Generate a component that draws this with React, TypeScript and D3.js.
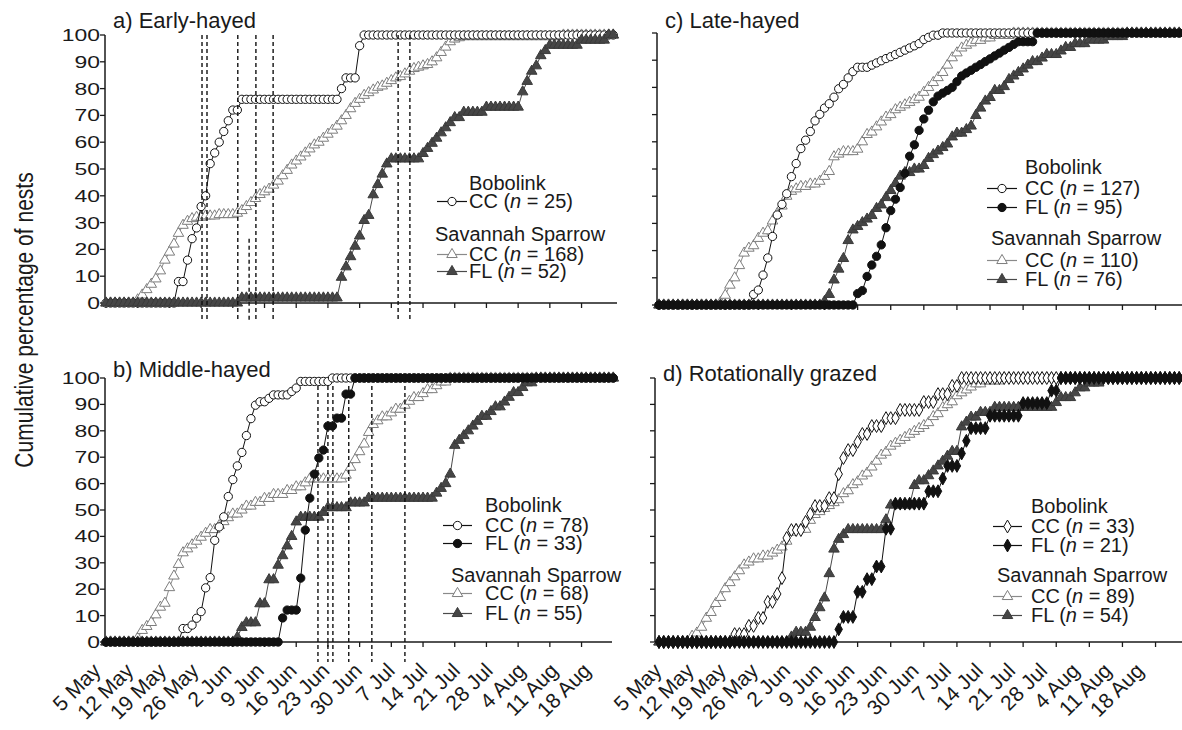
import { useEffect, useRef } from 'react'
import * as d3 from 'd3'

const W = 1182
const H = 730
const FONT = 'Liberation Sans, Arial, Helvetica, sans-serif'

// days since 5 May, one tick a week
const TICK_DAYS = [0, 7, 14, 21, 28, 35, 42, 49, 56, 63, 70, 77, 84, 91, 98, 105]
const TICK_LABELS = ['5 May', '12 May', '19 May', '26 May', '2 Jun', '9 Jun', '16 Jun', '23 Jun',
  '30 Jun', '7 Jul', '14 Jul', '21 Jul', '28 Jul', '4 Aug', '11 Aug', '18 Aug']
const Y_TICKS = [0, 10, 20, 30, 40, 50, 60, 70, 80, 90, 100]

// daily cumulative % of nests, day 0 = 5 May ... day 112
// a) Early-hayed
const A_BOB_CC = [
  0, 0, 0, 0, 0, 0, 0, 0, 0, 0, 0, 0, 0, 0, 0, 0, 8, 8, 16, 24,
  28, 36, 40, 52, 56, 60, 64, 68, 72, 72, 76, 76, 76, 76, 76, 76, 76, 76, 76, 76,
  76, 76, 76, 76, 76, 76, 76, 76, 76, 76, 76, 76, 80, 84, 84, 84, 96, 100, 100, 100,
  100, 100, 100, 100, 100, 100, 100, 100, 100, 100, 100, 100, 100, 100, 100, 100, 100, 100, 100, 100,
  100, 100, 100, 100, 100, 100, 100, 100, 100, 100, 100, 100, 100, 100, 100, 100, 100, 100, 100, 100,
  100, 100, 100, 100, 100, 100, 100, 100, 100, 100, 100, 100, 100,
]
const A_SAV_CC = [
  0, 0, 0, 0, 0, 0, 0, 1.2, 3, 5, 7, 9, 12, 16, 19, 22, 26, 29, 30.5, 31.5,
  32, 32, 32.5, 32.5, 32.5, 33, 33, 33, 33, 33.5, 34.5, 36, 37.5, 39, 40.5, 41.5, 42.5, 44, 45.5, 47.5,
  49.5, 51.5, 53, 54.5, 56, 57.5, 59, 60, 61.5, 63, 64.5, 66, 68, 70, 72.5, 74.5, 76, 77.5, 78.5, 79.5,
  80.5, 81, 82, 83, 84, 84.5, 85.5, 86.5, 87.5, 88, 88.5, 89, 90, 91.5, 93.5, 95.5, 97.5, 98.5, 99, 99.4,
  99.4, 99.4, 99.4, 99.4, 99.4, 99.4, 99.4, 99.4, 99.4, 99.4, 99.4, 99.4, 99.4, 99.4, 99.4, 99.4, 99.4, 99.4, 99.4, 99.4,
  99.4, 100, 100, 100, 100, 100, 100, 100, 100, 100, 100, 100, 100,
]
const A_SAV_FL = [
  0, 0, 0, 0, 0, 0, 0, 0, 0, 0, 0, 0, 0, 0, 0, 0, 0, 0, 0, 0,
  0, 0, 0, 0, 0, 0, 0, 0, 0, 0, 1.9, 1.9, 1.9, 1.9, 1.9, 1.9, 1.9, 1.9, 1.9, 1.9,
  1.9, 1.9, 1.9, 1.9, 1.9, 1.9, 1.9, 1.9, 1.9, 1.9, 1.9, 1.9, 9.6, 13.5, 17.3, 21.2, 25, 30.8, 32.7, 40.4,
  44.2, 48.1, 51.9, 53.8, 53.8, 53.8, 53.8, 53.8, 53.8, 53.8, 55.8, 57.7, 59.6, 61.5, 63.5, 65.4, 67.3, 69.2, 69.2, 71.2,
  71.2, 71.2, 71.2, 71.2, 73.1, 73.1, 73.1, 73.1, 73.1, 73.1, 73.1, 73.1, 78.8, 82.7, 86.5, 88.5, 92.3, 94.2, 96.2, 96.2,
  96.2, 96.2, 96.2, 96.2, 96.2, 98.1, 98.1, 98.1, 98.1, 98.1, 98.1, 100, 100,
]

// b) Middle-hayed
const B_BOB_CC = [
  0, 0, 0, 0, 0, 0, 0, 0, 0, 0, 0, 0, 0, 0, 0, 0, 0, 5.1, 5.1, 6.4,
  9, 11.5, 20.5, 24.4, 38.5, 43.6, 47.4, 55.1, 61.5, 66.7, 71.8, 78.2, 84.6, 89.7, 91, 91, 92.3, 93.6, 93.6, 93.6,
  93.6, 94.9, 96.2, 98.7, 98.7, 98.7, 98.7, 98.7, 98.7, 98.7, 100, 100, 100, 100, 100, 100, 100, 100, 100, 100,
  100, 100, 100, 100, 100, 100, 100, 100, 100, 100, 100, 100, 100, 100, 100, 100, 100, 100, 100, 100,
  100, 100, 100, 100, 100, 100, 100, 100, 100, 100, 100, 100, 100, 100, 100, 100, 100, 100, 100, 100,
  100, 100, 100, 100, 100, 100, 100, 100, 100, 100, 100, 100, 100,
]
const B_BOB_FL = [
  0, 0, 0, 0, 0, 0, 0, 0, 0, 0, 0, 0, 0, 0, 0, 0, 0, 0, 0, 0,
  0, 0, 0, 0, 0, 0, 0, 0, 0, 0, 0, 0, 0, 0, 0, 0, 0, 0, 0, 9.1,
  12.1, 12.1, 12.1, 24.2, 42.4, 54.5, 63.6, 69.7, 72.7, 81.8, 81.8, 84.8, 84.8, 93.9, 93.9, 100, 100, 100, 100, 100,
  100, 100, 100, 100, 100, 100, 100, 100, 100, 100, 100, 100, 100, 100, 100, 100, 100, 100, 100, 100,
  100, 100, 100, 100, 100, 100, 100, 100, 100, 100, 100, 100, 100, 100, 100, 100, 100, 100, 100, 100,
  100, 100, 100, 100, 100, 100, 100, 100, 100, 100, 100, 100, 100,
]
const B_SAV_CC = [
  0, 0, 0, 0, 0, 0, 0, 1.5, 4.4, 5.9, 7.4, 10.3, 13.2, 14.7, 20.6, 25, 29.4, 33.8, 35.3, 36.8,
  38.2, 39.7, 41.2, 42.6, 42.6, 44.1, 45.6, 47.1, 48.5, 48.5, 50, 51.5, 51.5, 52.9, 52.9, 54.4, 54.4, 55.9, 55.9, 55.9,
  57.4, 57.4, 58.8, 58.8, 60.3, 61.8, 61.8, 61.8, 61.8, 61.8, 61.8, 61.8, 61.8, 63.2, 66.2, 69.1, 72.1, 75, 79.4, 82.4,
  83.8, 85.3, 85.3, 86.8, 88.2, 88.2, 89.7, 91.2, 92.6, 92.6, 94.1, 95.6, 95.6, 97.1, 98.5, 98.5, 100, 100, 100, 100,
  100, 100, 100, 100, 100, 100, 100, 100, 100, 100, 100, 100, 100, 100, 100, 100, 100, 100, 100, 100,
  100, 100, 100, 100, 100, 100, 100, 100, 100, 100, 100, 100, 100,
]
const B_SAV_FL = [
  0, 0, 0, 0, 0, 0, 0, 0, 0, 0, 0, 0, 0, 0, 0, 0, 0, 0, 0, 0,
  0, 0, 0, 0, 0, 0, 0, 0, 0, 1.8, 5.5, 7.3, 7.3, 7.3, 14.5, 14.5, 23.6, 23.6, 29.1, 32.7,
  36.4, 40, 45.5, 47.3, 47.3, 47.3, 47.3, 47.3, 49.1, 50.9, 50.9, 50.9, 50.9, 50.9, 52.7, 52.7, 52.7, 52.7, 54.5, 54.5,
  54.5, 54.5, 54.5, 54.5, 54.5, 54.5, 54.5, 54.5, 54.5, 54.5, 54.5, 54.5, 54.5, 56.4, 58.2, 60, 63.6, 74.5, 76.4, 78.2,
  80, 81.8, 83.6, 85.5, 85.5, 87.3, 89.1, 89.1, 90.9, 92.7, 94.5, 94.5, 96.4, 98.2, 98.2, 100, 100, 100, 100, 100,
  100, 100, 100, 100, 100, 100, 100, 100, 100, 100, 100, 100, 100,
]

// c) Late-hayed
const C_BOB_CC = [
  0, 0, 0, 0, 0, 0, 0, 0, 0, 0, 0, 0, 0, 0, 0, 0, 0, 0, 0, 0,
  3.9, 5.5, 11, 17.3, 25.2, 33.1, 37, 40.9, 47.2, 52, 57.5, 60.6, 63.8, 67.7, 70.1, 72.4, 74, 76.4, 79.5, 81.1,
  83.5, 85.8, 87.4, 87.4, 87.4, 88.2, 89, 89.8, 90.6, 91.3, 92.1, 92.9, 93.7, 94.5, 95.3, 96.1, 97.6, 98.4, 99.2, 99.2,
  100, 100, 100, 100, 100, 100, 100, 100, 100, 100, 100, 100, 100, 100, 100, 100, 100, 100, 100, 100,
  100, 100, 100, 100, 100, 100, 100, 100, 100, 100, 100, 100, 100, 100, 100, 100, 100, 100, 100, 100,
  100, 100, 100, 100, 100, 100, 100, 100, 100, 100, 100, 100, 100,
]
const C_BOB_FL = [
  0, 0, 0, 0, 0, 0, 0, 0, 0, 0, 0, 0, 0, 0, 0, 0, 0, 0, 0, 0,
  0, 0, 0, 0, 0, 0, 0, 0, 0, 0, 0, 0, 0, 0, 0, 0, 0, 0, 0, 0,
  0, 0, 4.2, 5.3, 10.5, 14.7, 17.9, 22.1, 28.4, 34.7, 38.9, 43.2, 48.4, 54.7, 58.9, 64.2, 68.4, 71.6, 74.7, 76.8,
  77.9, 78.9, 80, 82.1, 84.2, 85.3, 86.3, 87.4, 88.4, 89.5, 90.5, 91.6, 92.6, 93.7, 94.7, 95.8, 96.8, 96.8, 96.8, 96.8,
  100, 100, 100, 100, 100, 100, 100, 100, 100, 100, 100, 100, 100, 100, 100, 100, 100, 100, 100, 100,
  100, 100, 100, 100, 100, 100, 100, 100, 100, 100, 100, 100, 100,
]
const C_SAV_CC = [
  0, 0, 0, 0, 0, 0, 0, 0, 0, 0, 0, 0, 0, 0.9, 3.6, 7.3, 10, 14.5, 19.1, 20.9,
  21.8, 24.5, 26.4, 27.3, 30.9, 33.6, 36.4, 40, 41.8, 42.7, 43.6, 43.6, 44.5, 44.5, 45.5, 47.3, 49.1, 54.5, 55.5, 56.4,
  56.4, 56.4, 57.3, 60, 62.7, 63.6, 65.5, 67.3, 69.1, 70, 71.8, 72.7, 73.6, 74.5, 75.5, 76.4, 78.2, 80, 81.8, 83.6,
  85.5, 88.2, 90.9, 92.7, 94.5, 95.5, 96.4, 97.3, 97.3, 98.2, 98.2, 99.1, 99.1, 99.1, 99.1, 100, 100, 100, 100, 100,
  100, 100, 100, 100, 100, 100, 100, 100, 100, 100, 100, 100, 100, 100, 100, 100, 100, 100, 100, 100,
  100, 100, 100, 100, 100, 100, 100, 100, 100, 100, 100, 100, 100,
]
const C_SAV_FL = [
  0, 0, 0, 0, 0, 0, 0, 0, 0, 0, 0, 0, 0, 0, 0, 0, 0, 0, 0, 0,
  0, 0, 0, 0, 0, 0, 0, 0, 0, 0, 0, 0, 0, 0, 0, 1.3, 3.9, 9.2, 13.2, 17.1,
  23.7, 27.6, 28.9, 30.3, 31.6, 32.9, 35.5, 36.8, 39.5, 42.1, 44.7, 47.4, 48.7, 48.7, 50, 50, 51.3, 53.9, 55.3, 56.6,
  57.9, 59.2, 61.8, 63.2, 63.2, 64.5, 65.8, 69.7, 72.4, 75, 76.3, 78.9, 78.9, 80.3, 82.9, 84.2, 85.5, 86.8, 88.2, 89.5,
  89.5, 90.8, 92.1, 92.1, 92.1, 93.4, 94.7, 94.7, 96.1, 96.1, 96.1, 97.4, 97.4, 97.4, 97.4, 98.7, 98.7, 98.7, 98.7, 100,
  100, 100, 100, 100, 100, 100, 100, 100, 100, 100, 100, 100, 100,
]

// d) Rotationally grazed
const D_BOB_CC = [
  0, 0, 0, 0, 0, 0, 0, 0, 0, 0, 0, 0, 0, 0, 0, 0, 3, 3, 3, 6.1,
  6.1, 9.1, 9.1, 15.2, 15.2, 18.2, 24.2, 39.4, 42.4, 42.4, 42.4, 45.5, 48.5, 51.5, 51.5, 51.5, 54.5, 54.5, 63.6, 69.7,
  72.7, 72.7, 75.8, 78.8, 78.8, 81.8, 81.8, 81.8, 84.8, 84.8, 84.8, 87.9, 87.9, 87.9, 87.9, 87.9, 90.9, 90.9, 90.9, 93.9,
  93.9, 93.9, 97, 97, 100, 100, 100, 100, 100, 100, 100, 100, 100, 100, 100, 100, 100, 100, 100, 100,
  100, 100, 100, 100, 100, 100, 100, 100, 100, 100, 100, 100, 100, 100, 100, 100, 100, 100, 100, 100,
  100, 100, 100, 100, 100, 100, 100, 100, 100, 100, 100, 100, 100,
]
const D_BOB_FL = [
  0, 0, 0, 0, 0, 0, 0, 0, 0, 0, 0, 0, 0, 0, 0, 0, 0, 0, 0, 0,
  0, 0, 0, 0, 0, 0, 0, 0, 0, 0, 0, 0, 0, 0, 0, 0, 0, 0, 4.8, 9.5,
  9.5, 9.5, 19, 19, 23.8, 23.8, 28.6, 28.6, 42.9, 42.9, 52.4, 52.4, 52.4, 52.4, 52.4, 52.4, 52.4, 57.1, 57.1, 57.1,
  61.9, 66.7, 66.7, 66.7, 71.4, 76.2, 81, 81, 81, 81, 85.7, 85.7, 85.7, 85.7, 85.7, 85.7, 85.7, 90.5, 90.5, 90.5,
  90.5, 90.5, 90.5, 95.2, 95.2, 100, 100, 100, 100, 100, 100, 100, 100, 100, 100, 100, 100, 100, 100, 100,
  100, 100, 100, 100, 100, 100, 100, 100, 100, 100, 100, 100, 100,
]
const D_SAV_CC = [
  0, 0, 0, 0, 0, 0, 0, 2.2, 3.4, 5.6, 9, 11.2, 14.6, 16.9, 20.2, 22.5, 24.7, 27, 29.2, 30.3,
  31.5, 31.5, 32.6, 32.6, 33.7, 34.8, 36, 38.2, 41.6, 42.7, 42.7, 42.7, 46.1, 48.3, 49.4, 50.6, 51.7, 52.8, 53.9, 56.2,
  57.3, 59.6, 60.7, 62.9, 64, 66.3, 68.5, 70.8, 71.9, 74.2, 75.3, 76.4, 77.5, 78.7, 79.8, 80.9, 82, 83.1, 85.4, 86.5,
  88.8, 89.9, 91, 93.3, 94.4, 95.5, 96.6, 97.8, 97.8, 98.9, 98.9, 98.9, 98.9, 100, 100, 100, 100, 100, 100, 100,
  100, 100, 100, 100, 100, 100, 100, 100, 100, 100, 100, 100, 100, 100, 100, 100, 100, 100, 100, 100,
  100, 100, 100, 100, 100, 100, 100, 100, 100, 100, 100, 100, 100,
]
const D_SAV_FL = [
  0, 0, 0, 0, 0, 0, 0, 0, 0, 0, 0, 0, 0, 0, 0, 0, 0, 0, 0, 0,
  0, 0, 0, 0, 0, 0, 0, 0, 1.9, 3.7, 3.7, 3.7, 5.6, 9.3, 13, 16.7, 25.9, 35.2, 38.9, 40.7,
  42.6, 42.6, 42.6, 42.6, 42.6, 42.6, 42.6, 42.6, 46.3, 51.9, 51.9, 51.9, 51.9, 51.9, 59.3, 61.1, 61.1, 63, 64.8, 66.7,
  68.5, 70.4, 72.2, 72.2, 81.5, 83.3, 85.2, 85.2, 87, 87, 87, 88.9, 88.9, 88.9, 88.9, 88.9, 88.9, 88.9, 88.9, 88.9,
  88.9, 88.9, 88.9, 88.9, 90.7, 92.6, 92.6, 92.6, 94.4, 96.3, 96.3, 98.1, 98.1, 98.1, 100, 100, 100, 100, 100, 100,
  100, 100, 100, 100, 100, 100, 100, 100, 100, 100, 100, 100, 100,
]

// haying dates (days since 5 May) shown as dashed lines, with the % where each line starts
const HAY_A = [21.2, 22.3, 29.1, 31.6, 33.1, 36.9, 64.5, 67.1]
const HAY_A_TOP = [100, 100, 100, 24, 100, 100, 100, 100]
const HAY_B = [46.8, 49, 50.1, 53.6, 58.7, 66]
const HAY_B_TOP = [97, 97, 97, 97, 97, 97]

type Shape = 'circle' | 'diamond' | 'triangle'
interface Series { code: string; n: number; values: number[]; shape: Shape; filled: boolean; sav: boolean }

const bob = (code: string, n: number, values: number[], shape: Shape = 'circle'): Series =>
  ({ code, n, values, shape, filled: code === 'FL', sav: false })
const sav = (code: string, n: number, values: number[]): Series =>
  ({ code, n, values, shape: 'triangle', filled: code === 'FL', sav: true })

const PANELS = [
  {
    title: 'a) Early-hayed', titleY: 28, x0: 106, ppd: 4.529, axisX: 105, xEnd: 617, y0: 303, y100: 35,
    yLabels: true, xLabels: false,
    bob: [bob('CC', 25, A_BOB_CC)],
    sav: [sav('CC', 168, A_SAV_CC), sav('FL', 52, A_SAV_FL)],
    hay: HAY_A, hayTop: HAY_A_TOP, hayBottom: 322,
    legend: { lx0: 437, lx1: 467, tx: 469, bobY: 190, savX: 435, savY: 241, rows: [208, 261, 278] },
  },
  {
    title: 'b) Middle-hayed', titleY: 377, x0: 106, ppd: 4.529, axisX: 105, xEnd: 612, y0: 642, y100: 378,
    yLabels: true, xLabels: true, labelRange: [102, 592],
    bob: [bob('CC', 78, B_BOB_CC), bob('FL', 33, B_BOB_FL)],
    sav: [sav('CC', 68, B_SAV_CC), sav('FL', 55, B_SAV_FL)],
    hay: HAY_B, hayTop: HAY_B_TOP, hayBottom: 662,
    legend: { lx0: 443, lx1: 472, tx: 485, bobY: 512, savX: 451, savY: 582, rows: [532, 550, 600, 620] },
  },
  {
    title: 'c) Late-hayed', titleY: 28, x0: 659, ppd: 4.729, axisX: 657, xEnd: 1182, y0: 305, y100: 33,
    yLabels: false, xLabels: false,
    bob: [bob('CC', 127, C_BOB_CC), bob('FL', 95, C_BOB_FL)],
    sav: [sav('CC', 110, C_SAV_CC), sav('FL', 76, C_SAV_FL)],
    hay: [], hayTop: [], hayBottom: 0,
    legend: { lx0: 987, lx1: 1017, tx: 1025, bobY: 174, savX: 991, savY: 245, rows: [195, 214, 267, 286] },
  },
  {
    title: 'd) Rotationally grazed', titleY: 381, x0: 659, ppd: 4.729, axisX: 655, xEnd: 1182, y0: 642, y100: 378,
    yLabels: false, xLabels: true, labelRange: [663, 1145],
    bob: [bob('CC', 33, D_BOB_CC, 'diamond'), bob('FL', 21, D_BOB_FL, 'diamond')],
    sav: [sav('CC', 89, D_SAV_CC), sav('FL', 54, D_SAV_FL)],
    hay: [], hayTop: [], hayBottom: 0,
    legend: { lx0: 993, lx1: 1022, tx: 1031, bobY: 513, savX: 997, savY: 582, rows: [533, 552, 603, 622] },
  },
]

function styleOf(s: Series) {
  if (s.sav) return s.filled
    ? { stroke: '#3a3a3a', fill: '#464646', line: '#4a4a4a' }
    : { stroke: '#7d7d7d', fill: '#ffffff', line: '#8a8a8a' }
  return s.filled
    ? { stroke: '#111', fill: '#111', line: '#111' }
    : { stroke: '#111', fill: '#ffffff', line: '#111' }
}

function symbolPath(shape: Shape) {
  if (shape === 'triangle') return d3.symbol().type(d3.symbolTriangle).size(48)()
  if (shape === 'diamond') return d3.symbol().type(d3.symbolDiamond).size(48)()
  return d3.symbol().type(d3.symbolCircle).size(54)()
}

export default function App() {
  const svgRef = useRef<SVGSVGElement>(null)

  useEffect(() => {
    if (!svgRef.current) return
    const svg = d3.select(svgRef.current)
    svg.selectAll('*').remove()
    svg.append('rect').attr('width', W).attr('height', H).attr('fill', '#fff')

    PANELS.forEach(p => {
      const x = d3.scaleLinear().domain([0, 105]).range([p.x0, p.x0 + 105 * p.ppd])
      const y = d3.scaleLinear().domain([0, 100]).range([p.y0, p.y100])
      const g = svg.append('g')

      // axes
      g.append('line').attr('x1', p.axisX).attr('x2', p.xEnd).attr('y1', y(0)).attr('y2', y(0))
        .attr('stroke', '#1a1a1a').attr('stroke-width', 1.5)
      g.append('line').attr('x1', p.axisX).attr('x2', p.axisX).attr('y1', y(0)).attr('y2', y(100))
        .attr('stroke', '#1a1a1a').attr('stroke-width', 1.5)
      g.selectAll('.xt').data(TICK_DAYS).enter().append('line')
        .attr('x1', d => x(d)).attr('x2', d => x(d)).attr('y1', y(0)).attr('y2', y(0) + 5)
        .attr('stroke', '#1a1a1a').attr('stroke-width', 1.3)
      g.selectAll('.yt').data(Y_TICKS).enter().append('line')
        .attr('x1', p.axisX - 5).attr('x2', p.axisX).attr('y1', d => y(d)).attr('y2', d => y(d))
        .attr('stroke', '#1a1a1a').attr('stroke-width', 1.3)

      if (p.yLabels) {
        g.selectAll('.yl').data(Y_TICKS).enter().append('text')
          .attr('transform', d => `translate(${p.axisX - 5},${y(d) + 6}) scale(1.35,1)`)
          .attr('text-anchor', 'end').attr('font-family', FONT).attr('font-size', 17).attr('fill', '#1a1a1a')
          .text(d => d)
      }

      if (p.xLabels && p.labelRange) {
        const lx = d3.scalePoint<string>().domain(TICK_LABELS).range(p.labelRange as [number, number])
        g.selectAll('.xl').data(TICK_LABELS).enter().append('text')
          .attr('transform', d => `translate(${lx(d)},${y(0) + 30}) rotate(-45)`)
          .attr('text-anchor', 'end').attr('font-family', FONT).attr('font-size', 21).attr('fill', '#1a1a1a')
          .text(d => d)
      }

      g.append('text').attr('x', p.axisX + 8).attr('y', p.titleY)
        .attr('font-family', FONT).attr('font-size', 22).attr('fill', '#1a1a1a').text(p.title)

      // series: sparrow CC, bobolink CC, sparrow FL, bobolink FL
      const order = [p.sav[0], p.bob[0], p.sav[1], p.bob[1]].filter(Boolean) as Series[]
      order.forEach(s => {
        const st = styleOf(s)
        const line = d3.line<number>().x((_, i) => x(i)).y(v => y(v))
        g.append('path').datum(s.values).attr('d', line)
          .attr('fill', 'none').attr('stroke', st.line).attr('stroke-width', 1)
        g.selectAll(null).data(s.values).enter().append('path')
          .attr('d', symbolPath(s.shape))
          .attr('transform', (v, i) => `translate(${x(i)},${y(v)})`)
          .attr('fill', st.fill).attr('stroke', st.stroke).attr('stroke-width', 1)
      })

      // haying dates
      g.selectAll('.hay').data(p.hay).enter().append('line')
        .attr('x1', d => x(d)).attr('x2', d => x(d))
        .attr('y1', (_, i) => y(p.hayTop[i])).attr('y2', p.hayBottom)
        .attr('stroke', '#111').attr('stroke-width', 1.4).attr('stroke-dasharray', '4,3')

      // legend
      const L = p.legend
      const txt = (xx: number, yy: number) => g.append('text').attr('x', xx).attr('y', yy)
        .attr('font-family', FONT).attr('font-size', 20).attr('fill', '#1a1a1a')
      txt(L.tx, L.bobY).text('Bobolink')
      txt(L.savX, L.savY).text('Savannah Sparrow')
      const rows = [...p.bob, ...p.sav]
      rows.forEach((s, i) => {
        const by = L.rows[i]
        const my = by - 6.5
        const st = styleOf(s)
        g.append('line').attr('x1', L.lx0).attr('x2', L.lx1).attr('y1', my).attr('y2', my)
          .attr('stroke', st.line).attr('stroke-width', 1.2)
        g.append('path').attr('d', symbolPath(s.shape))
          .attr('transform', `translate(${(L.lx0 + L.lx1) / 2},${my})`)
          .attr('fill', st.fill).attr('stroke', st.stroke).attr('stroke-width', 1)
        const t = txt(L.tx, by)
        t.append('tspan').text(`${s.code} (`)
        t.append('tspan').attr('font-style', 'italic').text('n')
        t.append('tspan').text(` = ${s.n})`)
      })
    })

    // shared y-axis title
    svg.append('text')
      .attr('transform', 'translate(33,320) scale(1.25,1) rotate(-90)')
      .attr('text-anchor', 'middle').attr('font-family', FONT).attr('font-size', 21).attr('fill', '#1a1a1a')
      .text('Cumulative percentage of nests')
  }, [])

  return (
    <svg ref={svgRef} width={W} height={H}
      style={{ position: 'absolute', left: 0, top: 0, display: 'block' }} />
  )
}
